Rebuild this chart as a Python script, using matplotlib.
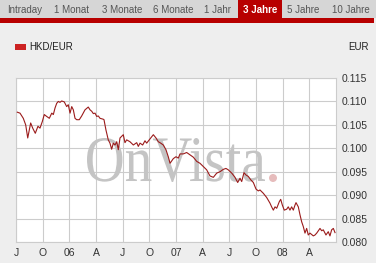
import numpy as np
import matplotlib
matplotlib.use('Agg')
import matplotlib.pyplot as plt
from matplotlib.patches import Rectangle, PathPatch, Circle
from matplotlib.textpath import TextPath
from matplotlib.font_manager import FontProperties
from matplotlib.transforms import Affine2D, IdentityTransform

# months since July 2005, HKD/EUR rate
months = [0.15, 0.45, 0.82, 1.09, 1.32, 1.65, 1.88, 2.17, 2.47, 2.70, 2.96, 3.18, 3.45,
          3.75, 4.02, 4.20, 4.39, 4.58, 4.76, 4.95, 5.14, 5.43, 5.70, 5.88, 6.08, 6.27,
          6.45, 6.64, 6.83, 7.12, 7.39, 7.76, 8.13, 8.33, 8.52, 8.70, 8.89, 9.08, 9.26,
          9.45, 9.82, 9.90, 10.12, 10.38, 10.57, 10.76, 10.95, 11.14, 11.33, 11.51, 11.70,
          12.07, 12.26, 12.45, 12.82, 13.20, 13.58, 13.76, 13.95, 14.25, 14.51, 14.70,
          15.07, 15.45, 15.75, 16.01, 16.28, 16.57, 16.87, 17.13, 17.33, 17.70, 18.00,
          18.26, 18.45, 18.82, 19.20, 19.57, 19.95, 20.33, 20.70, 21.07, 21.45, 21.82,
          22.20, 22.58, 22.95, 23.32, 23.62, 23.88, 24.27, 24.64, 24.94, 25.20, 25.39,
          25.65, 25.87, 26.13, 26.40, 26.70, 27.00, 27.26, 27.45, 27.82, 28.20, 28.57,
          28.76, 28.95, 29.14, 29.33, 29.62, 29.78, 29.96, 30.18, 30.45, 30.63, 30.82,
          31.01, 31.20, 31.39, 31.50, 31.76, 31.95, 32.14, 32.32, 32.51, 32.70, 32.88,
          33.07, 33.45, 33.64, 33.83, 34.20, 34.39, 34.57, 34.87, 35.13, 35.32, 35.51,
          35.70, 35.89]
rate = [0.1077, 0.1075, 0.1064, 0.1050, 0.1022, 0.1054, 0.1043, 0.1032, 0.1047, 0.1043,
        0.1057, 0.1072, 0.1068, 0.1064, 0.1075, 0.1072, 0.1086, 0.1096, 0.1100, 0.1098,
        0.1101, 0.1099, 0.1089, 0.1093, 0.1075, 0.1089, 0.1082, 0.1064, 0.1061, 0.1061,
        0.1069, 0.1082, 0.1088, 0.1082, 0.1079, 0.1074, 0.1075, 0.1068, 0.1069, 0.1064,
        0.1062, 0.1061, 0.1039, 0.1018, 0.1011, 0.0998, 0.1011, 0.1007, 0.1014, 0.0997,
        0.1022, 0.1029, 0.1012, 0.1018, 0.1014, 0.1007, 0.1012, 0.1004, 0.1011, 0.1007,
        0.1016, 0.1011, 0.1020, 0.1029, 0.1022, 0.1014, 0.1011, 0.1007, 0.0997, 0.0982,
        0.0968, 0.0978, 0.0982, 0.0979, 0.0988, 0.0988, 0.0991, 0.0986, 0.0981, 0.0972,
        0.0968, 0.0961, 0.0954, 0.0941, 0.0938, 0.0947, 0.0950, 0.0955, 0.0957, 0.0954,
        0.0947, 0.0938, 0.0927, 0.0936, 0.0929, 0.0948, 0.0943, 0.0940, 0.0933, 0.0927,
        0.0913, 0.0909, 0.0911, 0.0904, 0.0895, 0.0883, 0.0875, 0.0868, 0.0875, 0.0872,
        0.0886, 0.0891, 0.0879, 0.0868, 0.0870, 0.0875, 0.0868, 0.0875, 0.0868, 0.0879,
        0.0884, 0.0875, 0.0858, 0.0843, 0.0833, 0.0819, 0.0829, 0.0815, 0.0819, 0.0813,
        0.0815, 0.0819, 0.0829, 0.0824, 0.0826, 0.0815, 0.0822, 0.0813, 0.0826, 0.0829,
        0.0820]

x_ticks = [0, 3, 6, 9, 12, 15, 18, 21, 24, 27, 30, 33]
x_labels = ['J', 'O', '06', 'A', 'J', 'O', '07', 'A', 'J', 'O', '08', 'A']
y_ticks = [0.080, 0.085, 0.090, 0.095, 0.100, 0.105, 0.110, 0.115]

tabs = ['Intraday', '1 Monat', '3 Monate', '6 Monate', '1 Jahr', '3 Jahre', '5 Jahre', '10 Jahre']
tab_x = [25, 71, 122, 173, 218, 260, 303, 351]

W, H = 376, 263
fig = plt.figure(figsize=(W / 100, H / 100), dpi=100)
fig.patch.set_facecolor('#eeeeee')

# tab bar
fig.patches.append(Rectangle((0, 1 - 18 / H), 1, 18 / H, transform=fig.transFigure,
                             facecolor='#d6d6d6', edgecolor='none'))
fig.patches.append(Rectangle((0, 1 - 22.5 / H), 374 / W, 4.5 / H, transform=fig.transFigure,
                             facecolor='#b80000', edgecolor='none'))
fig.patches.append(Rectangle((238 / W, 1 - 22.5 / H), 44 / W, 22.5 / H, transform=fig.transFigure,
                             facecolor='#b80000', edgecolor='none'))
for name, tx in zip(tabs, tab_x):
    if name == '3 Jahre':
        fig.text(tx / W, 1 - 10 / H, name, color='white', fontsize=7, fontweight='bold',
                 ha='center', va='center', family='Liberation Sans')
    else:
        fig.text(tx / W, 1 - 10 / H, name, color='#555555', fontsize=7,
                 ha='center', va='center', family='Liberation Sans')

# legend
fig.patches.append(Rectangle((15 / W, 1 - 49.5 / H), 11 / W, 5 / H, transform=fig.transFigure,
                             facecolor='#cc2222', edgecolor='none'))
fig.text(29 / W, 1 - 47 / H, 'HKD/EUR', fontsize=7, color='#222222', va='center',
         family='Liberation Sans')
fig.text(369 / W, 1 - 47 / H, 'EUR', fontsize=7, color='#222222', va='center', ha='right',
         family='Liberation Sans')

ax = fig.add_axes([16 / W, 21 / H, 320 / W, 164 / H])
ax.set_facecolor('white')

# watermark, squeezed serif logo (pixel coords)
tp = TextPath((0, 0), 'OnVista', size=1, prop=FontProperties(family='Liberation Serif'))
bb = tp.get_extents()
sx = 178 / bb.width
sy = 44 / bb.height
wm = Affine2D().translate(-bb.x0, -bb.y0).scale(sx, sy).translate(87, H - 182)
ax.add_patch(PathPatch(tp, transform=wm, facecolor='#c4c4c4', edgecolor='none', zorder=1))
ax.add_patch(Circle((273, H - 178), 4, transform=IdentityTransform(),
                    facecolor='#e6bcbc', edgecolor='none', zorder=1))

ax.plot(months, rate, color='#9b1b1b', lw=0.8, zorder=3)

ax.set_xlim(0, 36)
ax.set_ylim(0.080, 0.115)
ax.set_xticks(x_ticks)
ax.set_xticklabels(x_labels)
ax.set_yticks(y_ticks)
ax.set_yticklabels(['%.3f' % v for v in y_ticks])
ax.yaxis.tick_right()
ax.tick_params(length=0, labelsize=7.5, colors='#333333', pad=4)
ax.tick_params(axis='x', pad=4)
for lab in ax.get_xticklabels() + ax.get_yticklabels():
    lab.set_family('Liberation Sans')
ax.grid(True, color='#cccccc', lw=0.8, zorder=0)
ax.set_axisbelow(True)
for s in ax.spines.values():
    s.set_color('#cccccc')
    s.set_linewidth(0.8)

fig.savefig('out.png', dpi=100, facecolor=fig.get_facecolor())
